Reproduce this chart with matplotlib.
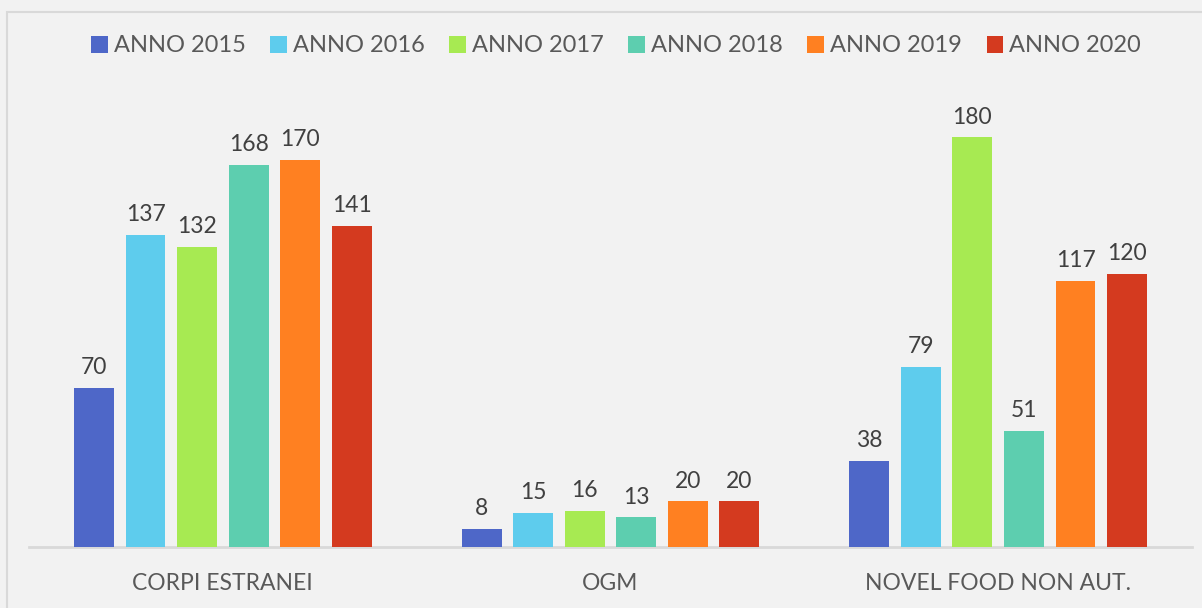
import matplotlib.pyplot as plt
import matplotlib.patches as mpatches
import numpy as np

categories = ["CORPI ESTRANEI", "OGM", "NOVEL FOOD NON AUT."]
years = ["ANNO 2015", "ANNO 2016", "ANNO 2017", "ANNO 2018", "ANNO 2019", "ANNO 2020"]
anno_2015 = [70, 8, 38]
anno_2016 = [137, 15, 79]
anno_2017 = [132, 16, 180]
anno_2018 = [168, 13, 51]
anno_2019 = [170, 20, 117]
anno_2020 = [141, 20, 120]
series = [anno_2015, anno_2016, anno_2017, anno_2018, anno_2019, anno_2020]
colors = ["#4e67c8", "#5ecced", "#a7ea52", "#5dceaf", "#ff8021", "#d43a1f"]

plt.rcParams['font.family'] = ['Lato', 'DejaVu Sans']

fig = plt.figure(figsize=(12.02, 6.08), dpi=100)
fig.set_facecolor("#f2f2f2")
# outer chart border (top and left edges visible)
fig.patches.append(mpatches.Rectangle((7/1202, -0.1), 1.2, (608-12)/608 + 0.1,
                                      transform=fig.transFigure, fill=False,
                                      edgecolor="#d9d9d9", linewidth=1.5))

ax = fig.add_axes([29/1202, 1-547/608, 1163/1202, (547-91.8)/608])
ax.set_facecolor("#f2f2f2")

x = np.arange(len(categories))
pitch = 0.133
width = 0.103
for i, (vals, col, lab) in enumerate(zip(series, colors, years)):
    pos = x + (i - 2.5) * pitch
    bars = ax.bar(pos, vals, width, color=col, label=lab, zorder=3)
    for b, v in zip(bars, vals):
        ax.annotate(str(v), (b.get_x() + b.get_width()/2, v), xytext=(0, 7),
                    textcoords="offset points", ha="center", va="bottom",
                    fontsize=16.5, color="#404040")

ax.set_xlim(-0.5, 2.5)
ax.set_ylim(0, 200)
ax.set_xticks(x)
ax.set_xticklabels(categories, fontsize=16.5, color="#595959")
ax.tick_params(axis="x", length=0, pad=19)
ax.set_yticks([])
for s in ["top", "right", "left"]:
    ax.spines[s].set_visible(False)
ax.spines["bottom"].set_color("#d9d9d9")
ax.spines["bottom"].set_linewidth(2)

fig.legend(loc="center", bbox_to_anchor=(616/1202, 1-46/608), ncol=6, frameon=False,
           fontsize=17, labelcolor="#595959", handlelength=0.7, handleheight=0.7,
           handletextpad=0.25, columnspacing=1.05)

fig.savefig("out.png", dpi=100, facecolor=fig.get_facecolor())
